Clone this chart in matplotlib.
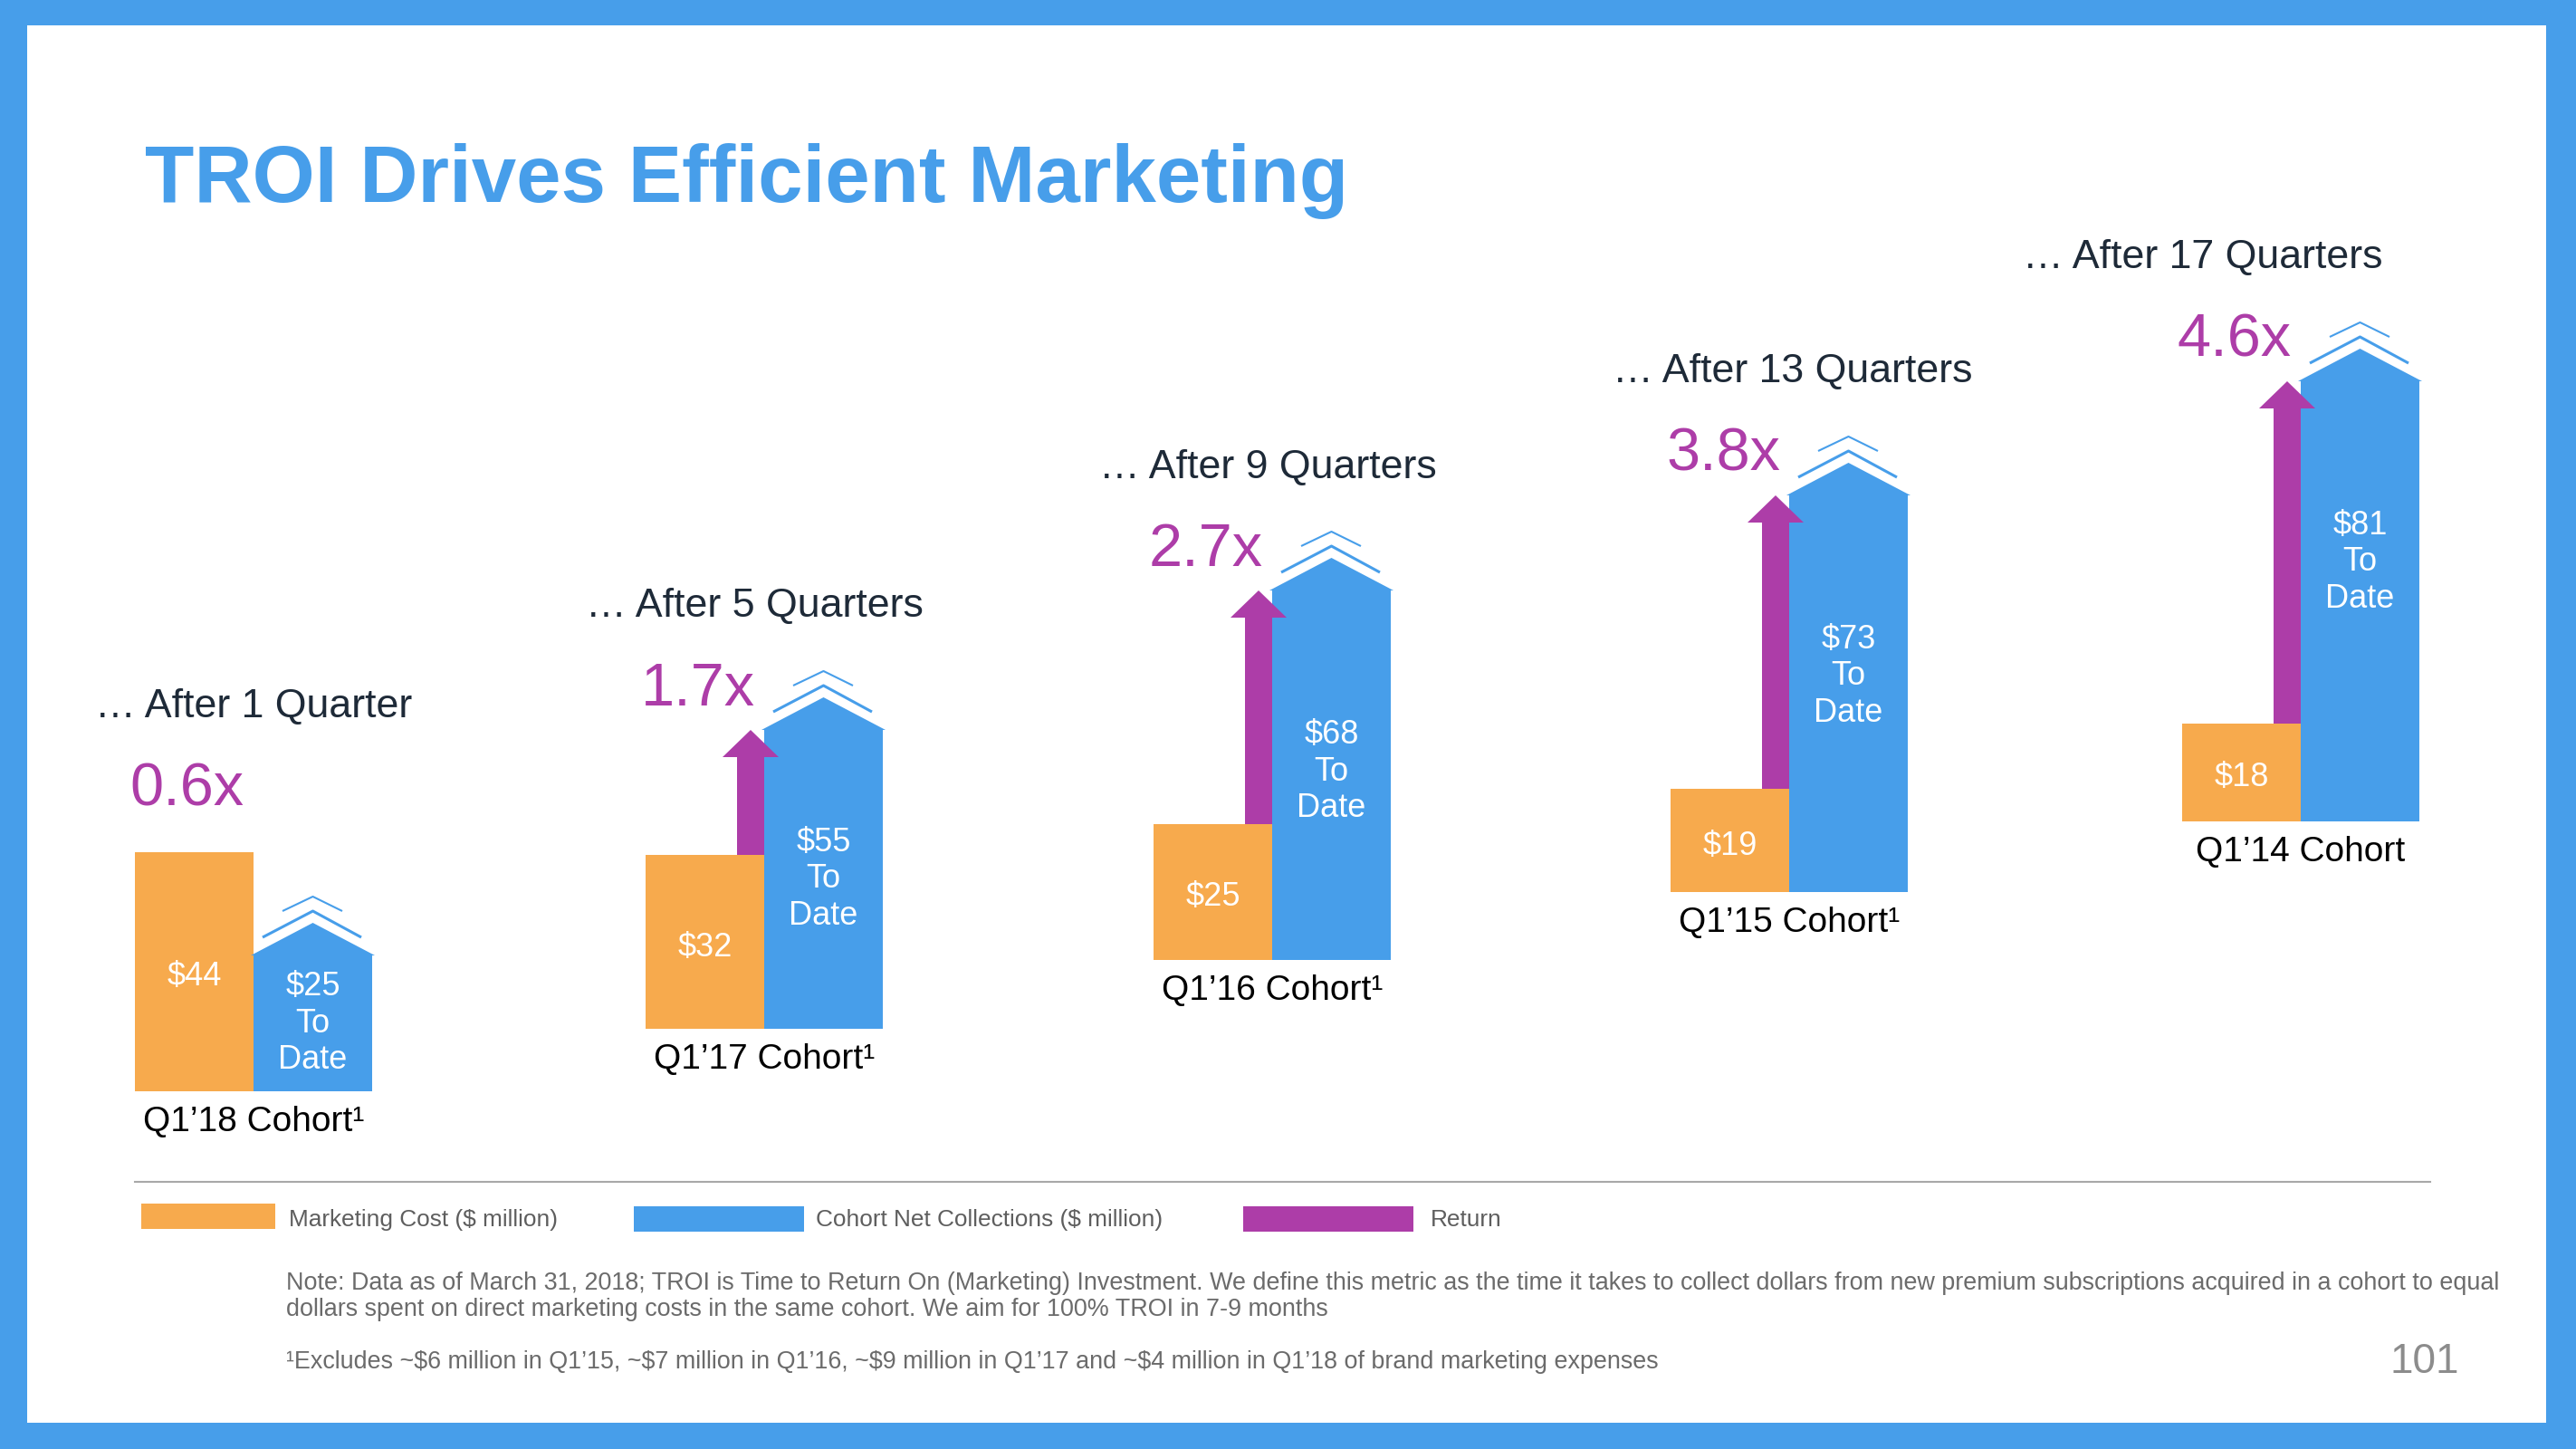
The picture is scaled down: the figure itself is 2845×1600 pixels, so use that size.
import matplotlib.pyplot as plt
from matplotlib.patches import Polygon, Rectangle

# values shown on the slide ($ million)
cohorts = ["Q1\u201918 Cohort\u00b9", "Q1\u201917 Cohort\u00b9", "Q1\u201916 Cohort\u00b9",
           "Q1\u201915 Cohort\u00b9", "Q1\u201914 Cohort"]
headings = ["\u2026 After 1 Quarter", "\u2026 After 5 Quarters", "\u2026 After 9 Quarters",
            "\u2026 After 13 Quarters", "\u2026 After 17 Quarters"]
marketing_cost = [44, 32, 25, 19, 18]
net_collections = [25, 55, 68, 73, 81]
multiples = [0.6, 1.7, 2.7, 3.8, 4.6]

BLUE = '#479EEA'
ORANGE = '#F7AA4D'
PURPLE = '#AD3DA8'
DARK = '#1E2A38'
GREY = '#6B6B6B'

plt.rcParams['font.family'] = ['Liberation Sans', 'DejaVu Sans']
plt.rcParams['text.parse_math'] = False

W, H = 2845, 1600
PX = 6.0  # pixels per $ million

# layout of the five groups (pixels, from top-left of the slide)
group_left = [149, 713, 1274, 1845, 2410]
group_bottom = [1205, 1136, 1060, 985, 907]
heading_x = [280, 833, 1400, 1980, 2433]
BAR_W = 131


def fx(x):
    return x / W


def fy(y):
    return 1 - y / H


def usd(y_px):
    # pixel row -> value on the $ axis
    return (H - y_px) / PX


fig = plt.figure(figsize=(W / 100, H / 100), dpi=100, facecolor=BLUE)
fig.patches.append(Rectangle((fx(30), fy(1571)), fx(2812) - fx(30), fy(28) - fy(1571),
                             transform=fig.transFigure, facecolor='white', edgecolor='none', zorder=-5))

ax = fig.add_axes([0, 0, 1, 1])
ax.set_xlim(0, W)
ax.set_ylim(0, H / PX)
ax.axis('off')
ax.patch.set_visible(False)

fig.text(fx(160), fy(223), 'TROI Drives Efficient Marketing', fontsize=64, fontweight='bold',
         color=BLUE, ha='left', va='baseline')

for i in range(5):
    ol = group_left[i]
    bl = ol + BAR_W
    br = bl + BAR_W
    base = usd(group_bottom[i])
    cost = marketing_cost[i]
    coll = net_collections[i]

    ax.bar(ol, cost, width=BAR_W, bottom=base, align='edge', color=ORANGE, linewidth=0, zorder=2)
    ax.bar(bl, coll, width=BAR_W, bottom=base, align='edge', color=BLUE, linewidth=0, zorder=2)

    top = base + coll
    c = bl + BAR_W / 2
    roof = Polygon([(bl - 3, top), (c, top + 36 / PX), (br + 3, top)], closed=True,
                   facecolor=BLUE, edgecolor='none', zorder=2)
    ax.add_patch(roof)
    ax.plot([bl + 10, c, br - 12], [top + 20 / PX, top + 49 / PX, top + 20 / PX],
            color=BLUE, lw=2.2, solid_capstyle='butt', zorder=2)
    ax.plot([bl + 32, c, br - 33], [top + 49 / PX, top + 65 / PX, top + 49 / PX],
            color=BLUE, lw=1.5, solid_capstyle='butt', zorder=2)

    # return arrow from cost level up to collections level
    cost_top_px = group_bottom[i] - cost * PX
    if coll > cost:
        sc = bl - 15
        yh = top - 30 / PX
        arrow = Polygon([(bl - 30, base + cost), (bl, base + cost), (bl, yh), (sc + 31, yh),
                         (sc, top), (sc - 31, yh), (bl - 30, yh)], closed=True,
                        facecolor=PURPLE, edgecolor='none', zorder=3)
        ax.add_patch(arrow)
        ref_px = group_bottom[i] - coll * PX
    else:
        ref_px = cost_top_px - 25

    # bar labels
    ax.text(ol + BAR_W / 2, base + cost / 2 - 6 / PX, '$%d' % cost, color='white', fontsize=26,
            ha='center', va='center', zorder=4)
    body_h = coll * PX
    lab_px = group_bottom[i] - body_h + min(body_h / 2, 200)
    ax.text(c, usd(lab_px), '$%d\nTo\nDate' % coll, color='white', fontsize=26,
            ha='center', va='center', linespacing=1.2, zorder=4)

    # multiple and heading above the group
    mult_px = ref_px - 44
    fig.text(fx(bl - 10), fy(mult_px), '%.1fx' % multiples[i], color=PURPLE, fontsize=48,
             ha='right', va='center')
    fig.text(fx(heading_x[i]), fy(mult_px - 92), headings[i], color=DARK, fontsize=32.2,
             ha='center', va='center')

    fig.text(fx(bl), fy(group_bottom[i] + 34), cohorts[i], color='black', fontsize=28,
             ha='center', va='center')

# separator and legend
fig.add_artist(plt.Line2D([fx(149), fx(2684)], [fy(1305), fy(1305)], color='#A8A8A8', lw=1.5))
legend = [(156, 304, 1329, ORANGE, 319, 'Marketing Cost ($ million)'),
          (700, 888, 1332, BLUE, 901, 'Cohort Net Collections ($ million)'),
          (1373, 1561, 1332, PURPLE, 1580, 'Return')]
for x0, x1, y0, col, tx, label in legend:
    fig.patches.append(Rectangle((fx(x0), fy(y0 + 28)), fx(x1) - fx(x0), fy(y0) - fy(y0 + 28),
                                 transform=fig.transFigure, facecolor=col, edgecolor='none'))
    fig.text(fx(tx), fy(1347), label, color='#5E5E5E', fontsize=18.9, ha='left', va='center')

note1 = ('Note: Data as of March 31, 2018; TROI is Time to Return On (Marketing) Investment. '
         'We define this metric as the time it takes to collect dollars from new premium '
         'subscriptions acquired in a cohort to equal')
note2 = 'dollars spent on direct marketing costs in the same cohort. We aim for 100% TROI in 7-9 months'
note3 = ('\u00b9Excludes ~$6 million in Q1\u201915, ~$7 million in Q1\u201916, ~$9 million in '
         'Q1\u201917 and ~$4 million in Q1\u201918 of brand marketing expenses')
fig.text(fx(316), fy(1417), note1, color=GREY, fontsize=19.4, ha='left', va='center')
fig.text(fx(316), fy(1446), note2, color=GREY, fontsize=19.4, ha='left', va='center')
fig.text(fx(316), fy(1504), note3, color=GREY, fontsize=19.4, ha='left', va='center')
fig.text(fx(2716), fy(1504), '101', color='#8C8C8C', fontsize=33, ha='right', va='center')

fig.savefig('out.png', dpi=100, facecolor=BLUE)
